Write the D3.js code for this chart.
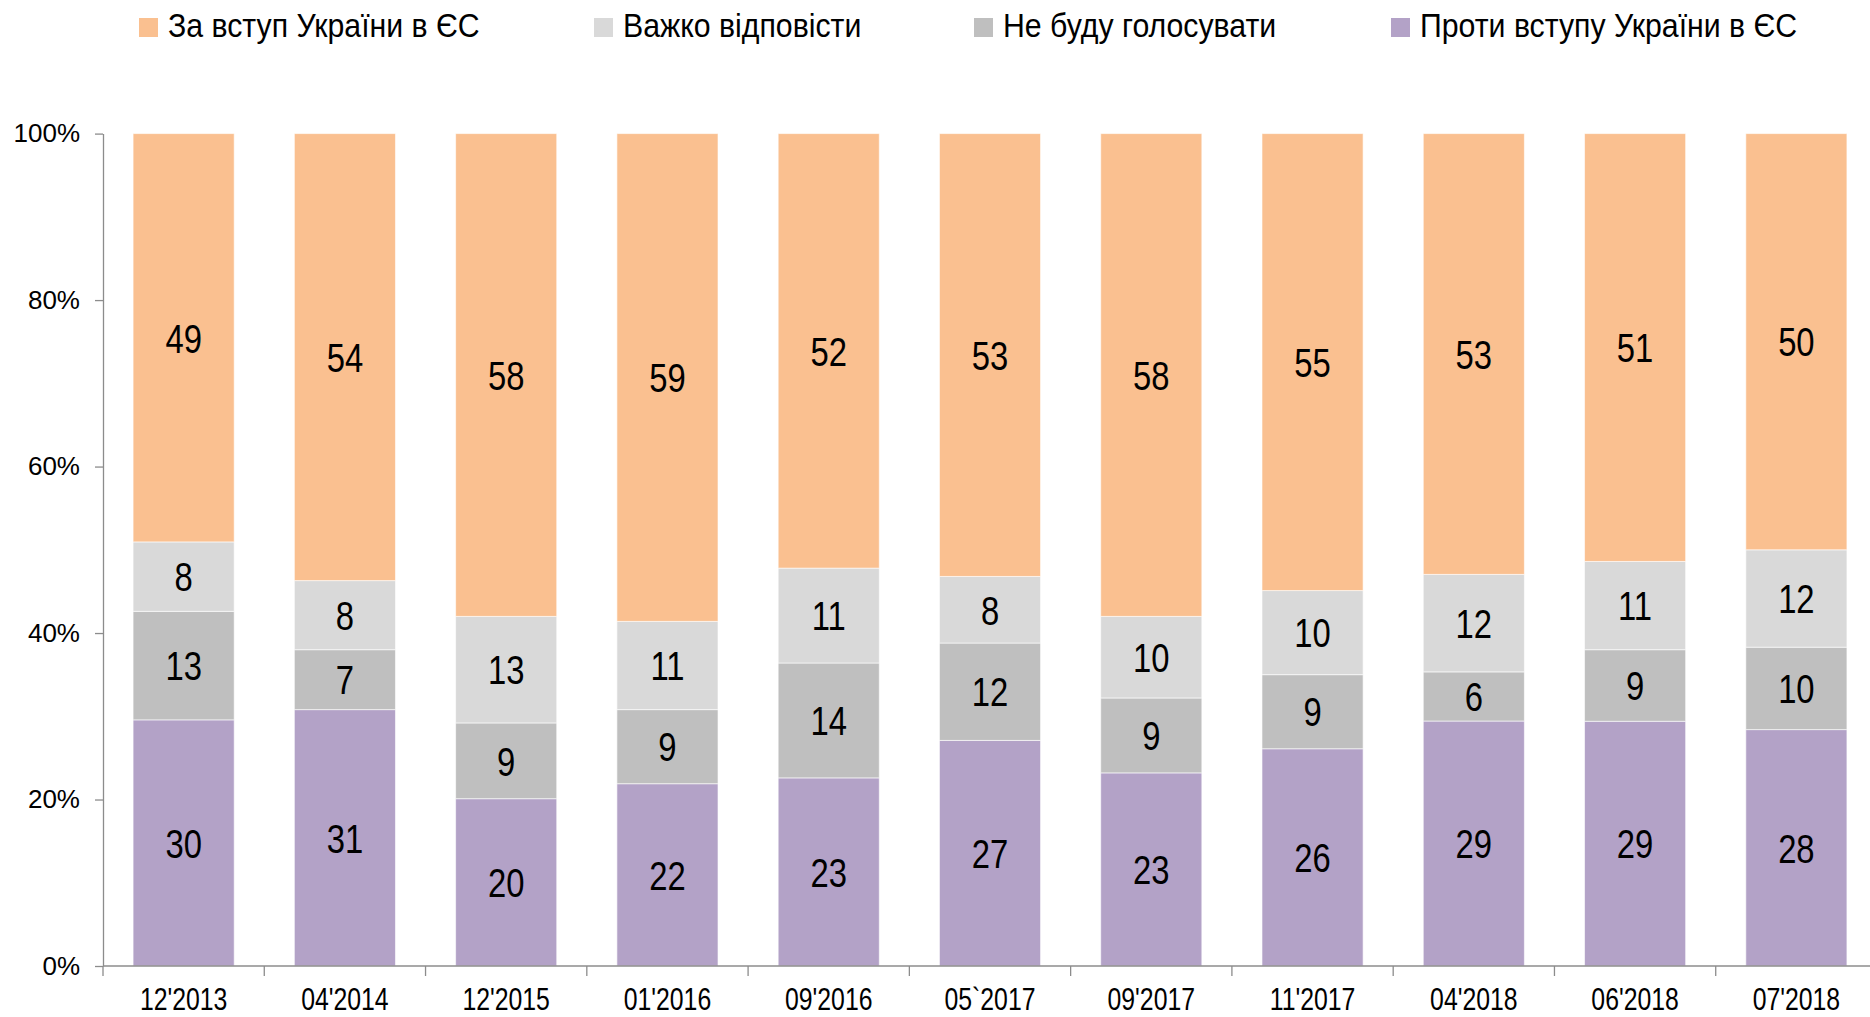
<!DOCTYPE html>
<html>
<head>
<meta charset="utf-8">
<script src="https://cdn.jsdelivr.net/npm/d3@7"></script>
<style>
  body { margin: 0; background: #fff; }
  svg { display: block; }
  text { font-family: "Liberation Sans", Arial, sans-serif; }
</style>
</head>
<body>
<svg id="chart" width="1870" height="1017"></svg>
<script>
// survey waves
const waves = ["12'2013", "04'2014", "12'2015", "01'2016", "09'2016", "05`2017",
               "09'2017", "11'2017", "04'2018", "06'2018", "07'2018"];

// series values, %
const za = [49.1, 53.7, 58.0, 58.6, 52.2, 53.2, 58.0, 54.9, 52.9, 51.4, 50.0];
const vazhko = [8.35, 8.3, 12.8, 10.6, 11.4, 8.0, 9.8, 10.1, 11.7, 10.6, 11.7];
const neBudu = [13.05, 7.2, 9.1, 8.9, 13.8, 11.7, 9.0, 8.9, 5.9, 8.6, 9.9];
const proty = [29.6, 30.8, 20.1, 21.9, 22.6, 27.1, 23.2, 26.1, 29.4, 29.4, 28.4];

const seriesNames = ["За вступ України в ЄС", "Важко відповісти", "Не буду голосувати", "Проти вступу України в ЄС"];
const yTicks = [0, 0.2, 0.4, 0.6, 0.8, 1];

const colors = {
  proty: "#b3a2c7",
  neBudu: "#bfbfbf",
  vazhko: "#d9d9d9",
  za: "#fac090"
};

// build rows for the stack
const rows = waves.map((w, i) => ({
  wave: w, proty: proty[i], neBudu: neBudu[i], vazhko: vazhko[i], za: za[i]
}));
const keys = ["proty", "neBudu", "vazhko", "za"];

const stacked = d3.stack().keys(keys).offset(d3.stackOffsetExpand)(rows);

const svg = d3.select("#chart");

const plotLeft = 103, plotRight = 1877, plotTop = 133.6, plotBottom = 966;
// no narrow font installed, so squeeze regular text horizontally
const narrow = 0.8;

const x = d3.scaleBand()
  .domain(waves)
  .range([plotLeft, plotRight])
  .paddingInner(0.373)
  .paddingOuter(0.1865);

const y = d3.scaleLinear()
  .domain([0, 1])
  .range([plotBottom, plotTop]);

// bars
const layers = svg.append("g")
  .selectAll("g")
  .data(stacked)
  .enter()
  .append("g")
  .attr("fill", d => colors[d.key]);

layers.selectAll("rect")
  .data(d => d)
  .enter()
  .append("rect")
  .attr("x", d => x(d.data.wave))
  .attr("y", d => y(d[1]))
  .attr("width", x.bandwidth())
  .attr("height", d => y(d[0]) - y(d[1]))
  .attr("stroke", "#fff")
  .attr("stroke-opacity", 0.6)
  .attr("stroke-width", 1);

// value labels
stacked.forEach(layer => {
  svg.append("g")
    .selectAll("text")
    .data(layer)
    .enter()
    .append("text")
    .attr("transform", d => `translate(${x(d.data.wave) + x.bandwidth() / 2},${(y(d[0]) + y(d[1])) / 2}) scale(${narrow},1)`)
    .attr("dy", "0.36em")
    .attr("text-anchor", "middle")
    .attr("font-size", "41px")
    .attr("fill", "#000")
    .text(d => Math.round(d.data[layer.key]));
});

// y axis
const yAxis = d3.axisLeft(y)
  .tickValues(yTicks)
  .tickFormat(d3.format(".0%"))
  .tickSize(8)
  .tickSizeOuter(0)
  .tickPadding(15);

const gy = svg.append("g")
  .attr("transform", `translate(${plotLeft},0)`)
  .call(yAxis);
gy.attr("font-family", null);
gy.select(".domain").attr("stroke", "#8c8c8c").attr("stroke-width", 1.3);
gy.selectAll(".tick line").attr("stroke", "#8c8c8c").attr("stroke-width", 1.3);
gy.selectAll(".tick text")
  .attr("font-size", "26px")
  .attr("fill", "#000");

// x axis
const xAxis = d3.axisBottom(x).tickSize(0).tickSizeOuter(0);
const gx = svg.append("g")
  .attr("transform", `translate(0,${plotBottom})`)
  .call(xAxis);
gx.attr("font-family", null);
gx.select(".domain")
  .attr("d", `M${plotLeft},0H${plotRight}`)
  .attr("stroke", "#8c8c8c")
  .attr("stroke-width", 1.3);
gx.selectAll(".tick text")
  .attr("font-size", "31px")
  .attr("fill", "#000")
  .attr("y", 0)
  .attr("dy", 0)
  .attr("transform", `translate(0,44) scale(${narrow},1)`);

// tick marks between categories
gx.selectAll(".sep")
  .data(d3.range(waves.length + 1))
  .enter()
  .append("line")
  .attr("x1", i => plotLeft + i * x.step())
  .attr("x2", i => plotLeft + i * x.step())
  .attr("y1", 0)
  .attr("y2", 10)
  .attr("stroke", "#8c8c8c")
  .attr("stroke-width", 1.3);

// legend
const legendKeys = ["za", "vazhko", "neBudu", "proty"];
const legendX = [139, 594, 974, 1391];
const legend = svg.append("g");
legendKeys.forEach((k, i) => {
  legend.append("rect")
    .attr("x", legendX[i])
    .attr("y", 18)
    .attr("width", 19)
    .attr("height", 19)
    .attr("fill", colors[k]);
  legend.append("text")
    .attr("transform", `translate(${legendX[i] + 29},37) scale(0.89,1)`)
    .attr("font-size", "34px")
    .attr("fill", "#000")
    .text(seriesNames[i]);
});
</script>
</body>
</html>
